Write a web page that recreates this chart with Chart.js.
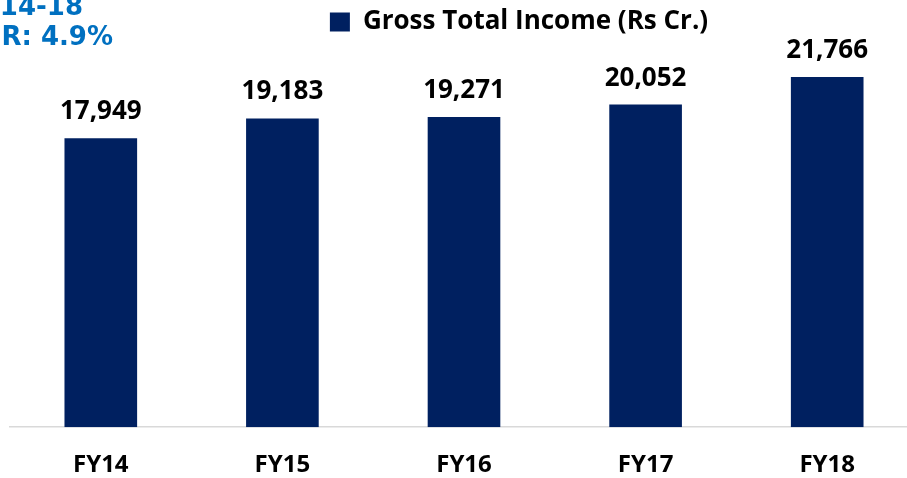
<!DOCTYPE html>
<html>
<head>
<meta charset="utf-8">
<script src="https://cdn.jsdelivr.net/npm/chart.js@4/dist/chart.umd.min.js"></script>
<style>
  html, body { margin: 0; padding: 0; background: #fff; }
  #wrap { position: relative; width: 907px; height: 478px; overflow: hidden; }
  #chart { position: absolute; left: 0; top: 0; }
</style>
</head>
<body>
<div id="wrap"><canvas id="chart" width="1038" height="505"></canvas></div>
<script>
// values (Rs Cr.)
const years = ['FY14', 'FY15', 'FY16', 'FY17', 'FY18'];
const grossIncome = [17949, 19183, 19271, 20052, 21766];
const seriesName = 'Gross Total Income (Rs Cr.)';
const cagrLines = ['FY14-18', 'CAGR: 4.9%'];

const navy = '#002060';
const blue = '#0070C0';

// bold value labels over each bar
const valueLabels = {
    id: 'valueLabels',
    afterDatasetsDraw(chart) {
        const ctx = chart.ctx;
        const meta = chart.getDatasetMeta(0);
        ctx.save();
        ctx.font = 'bold 26px "Open Sans"';
        ctx.fillStyle = '#000';
        ctx.textAlign = 'center';
        ctx.textBaseline = 'alphabetic';
        meta.data.forEach((bar, i) => {
            ctx.fillText(grossIncome[i].toLocaleString('en-US'), bar.x, bar.y - 19);
        });
        ctx.restore();
    }
};

// legend sits a bit right of the plot centre in the slide
const legendShift = {
    id: 'legendShift',
    afterLayout(chart) {
        chart.legend.left += 55;
        chart.legend.right += 55;
    }
};

// the CAGR note, cut off at the left edge like in the source slide
const cagrNote = {
    id: 'cagrNote',
    afterDraw(chart) {
        const ctx = chart.ctx;
        ctx.save();
        ctx.font = 'bold 26px "DejaVu Sans"';
        ctx.fillStyle = blue;
        ctx.textAlign = 'right';
        ctx.textBaseline = 'alphabetic';
        ctx.fillText(cagrLines[0], 83, 15);
        ctx.fillText(cagrLines[1], 113, 45);
        ctx.restore();
    }
};

new Chart(document.getElementById('chart'), {
    type: 'bar',
    data: {
        labels: years,
        datasets: [{
            label: seriesName,
            data: grossIncome,
            backgroundColor: navy,
            borderWidth: 0,
            barPercentage: 0.8,
            categoryPercentage: 0.5
        }]
    },
    options: {
        responsive: false,
        animation: false,
        devicePixelRatio: 1,
        layout: { padding: { left: 10, right: 120, top: 0, bottom: 1 } },
        plugins: {
            legend: {
                position: 'top',
                labels: {
                    color: '#000',
                    font: { family: 'Open Sans', size: 26, weight: 'bold' },
                    boxWidth: 20,
                    boxHeight: 19,
                    padding: 9
                }
            },
            tooltip: { enabled: false }
        },
        scales: {
            x: {
                grid: { display: false, drawTicks: false },
                border: { display: true, color: '#d9d9d9', width: 1.5 },
                ticks: {
                    color: '#000',
                    padding: 24,
                    font: { family: 'Open Sans', size: 24, weight: 'bold' }
                }
            },
            y: {
                display: false,
                min: 0,
                max: 23750
            }
        }
    },
    plugins: [valueLabels, legendShift, cagrNote]
});
</script>
</body>
</html>
